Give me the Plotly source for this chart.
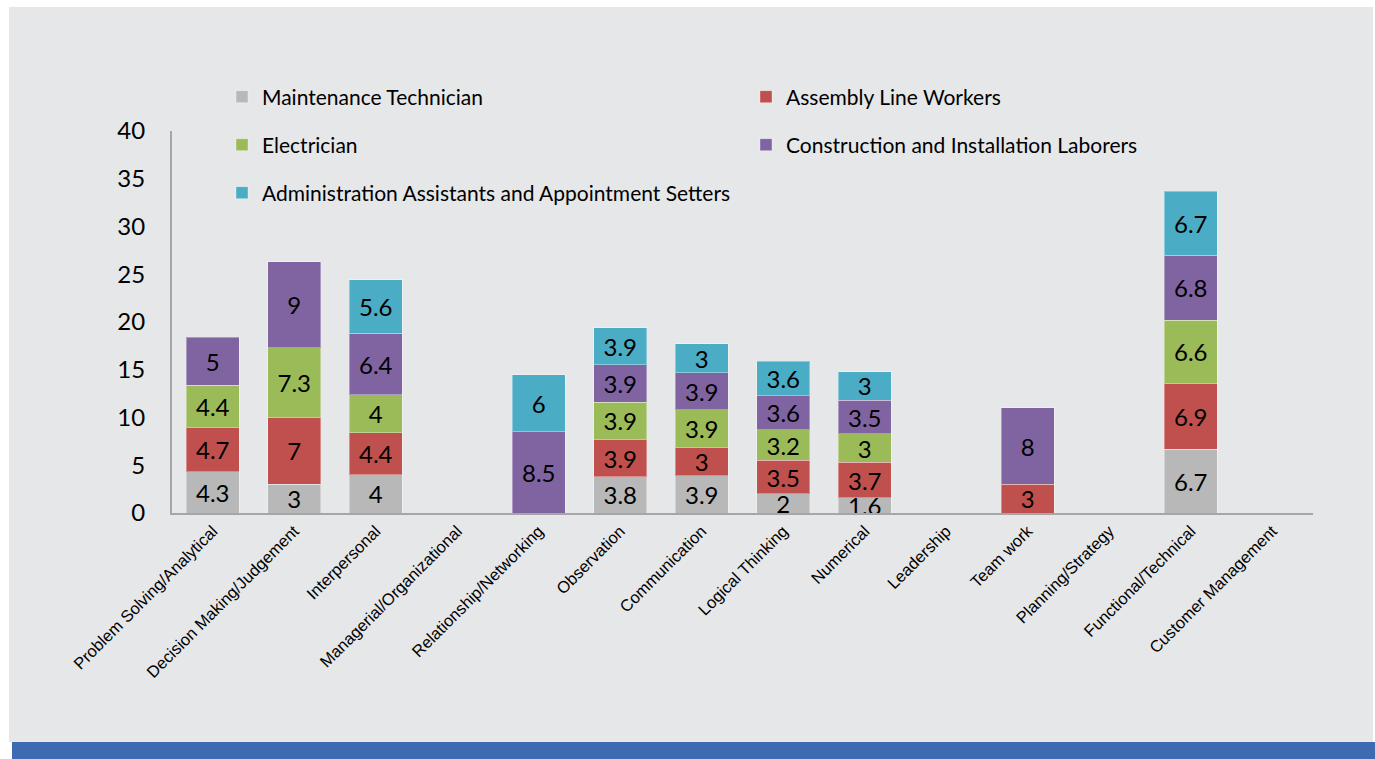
import plotly.graph_objects as go

categories = ["Problem Solving/Analytical", "Decision Making/Judgement", "Interpersonal",
              "Managerial/Organizational", "Relationship/Networking", "Observation",
              "Communication", "Logical Thinking", "Numerical", "Leadership", "Team work",
              "Planning/Strategy", "Functional/Technical", "Customer Management"]

maintenance = [4.3, 3, 4, None, None, 3.8, 3.9, 2, 1.6, None, None, None, 6.7, None]
assembly = [4.7, 7, 4.4, None, None, 3.9, 3, 3.5, 3.7, None, 3, None, 6.9, None]
electrician = [4.4, 7.3, 4, None, None, 3.9, 3.9, 3.2, 3, None, None, None, 6.6, None]
construction = [5, 9, 6.4, None, 8.5, 3.9, 3.9, 3.6, 3.5, None, 8, None, 6.8, None]
admin = [None, None, 5.6, None, 6, 3.9, 3, 3.6, 3, None, None, None, 6.7, None]

series = [
    ("Maintenance Technician", maintenance, "#b8b8b8", "legend"),
    ("Assembly Line Workers", assembly, "#c0504d", "legend2"),
    ("Electrician", electrician, "#9bbb59", "legend3"),
    ("Construction and Installation Laborers", construction, "#8064a2", "legend4"),
    ("Administration Assistants and Appointment Setters", admin, "#4bacc6", "legend5"),
]

FONT = "Lato, 'Open Sans', sans-serif"

fig = go.Figure()
for name, vals, color, lg in series:
    fig.add_trace(go.Bar(
        x=categories, y=vals, name=name, legend=lg, showlegend=True,
        marker=dict(color=color, line=dict(color="rgba(255,255,255,0.35)", width=1)),
        text=[("" if v is None else f"{v:g}") for v in vals],
        textposition="inside", insidetextanchor="middle", textangle=0,
        textfont=dict(family=FONT, size=24, color="black"),
        constraintext="none",
        hoverinfo="x+y+name",
    ))

# plot area geometry (px)
L, R, T, B = 172, 62, 131, 246
W = 1375 - L - R
H = 759 - T - B

def px2x(px):
    return (px - L) / W

def py2y(py):
    return (759 - B - py) / H

leg_common = dict(orientation="h", xanchor="left", yanchor="middle",
                  font=dict(family=FONT, size=21, color="black"),
                  bgcolor="rgba(0,0,0,0)")
fig.update_layout(
    showlegend=True,
    legend=dict(x=px2x(222), y=py2y(97), **leg_common),
    legend2=dict(x=px2x(746), y=py2y(97), **leg_common),
    legend3=dict(x=px2x(222), y=py2y(145), **leg_common),
    legend4=dict(x=px2x(746), y=py2y(145), **leg_common),
    legend5=dict(x=px2x(222), y=py2y(193), **leg_common),
)

fig.update_layout(
    barmode="stack",
    bargap=0.35,
    width=1375, height=759,
    margin=dict(l=L, r=R, t=T, b=B, pad=0),
    paper_bgcolor="white",
    plot_bgcolor="rgba(0,0,0,0)",
    uniformtext=dict(mode="show", minsize=24),
    xaxis=dict(
        showgrid=False, showline=True, linecolor="#a6a6a6", linewidth=2,
        ticks="", tickangle=-45,
        tickfont=dict(family="'Liberation Sans', Arial, sans-serif", size=16.5, color="black"),
        zeroline=False,
    ),
    yaxis=dict(
        range=[0, 40], dtick=5, showgrid=False, showline=True,
        linecolor="#a6a6a6", linewidth=2, ticks="", zeroline=False,
        tickfont=dict(family=FONT, size=24, color="black"),
        ticklabelstandoff=20,
    ),
    shapes=[
        dict(type="rect", xref="paper", yref="paper",
             x0=px2x(9), x1=px2x(1373), y0=py2y(742), y1=py2y(7),
             fillcolor="#e6e7e9", line=dict(width=0), layer="below"),
        dict(type="rect", xref="paper", yref="paper",
             x0=px2x(12), x1=px2x(1375), y0=py2y(759), y1=py2y(742),
             fillcolor="#3d6ab0", line=dict(width=0), layer="below"),
    ],
)

fig.write_html("out.html", config={"displayModeBar": False},
               post_script="document.body.style.margin='0';document.body.style.overflow='hidden';")
